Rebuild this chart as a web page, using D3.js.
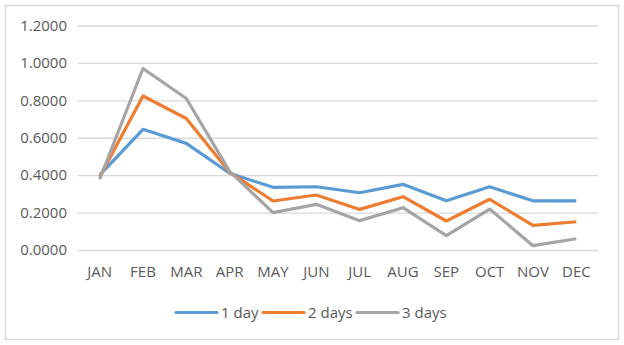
<!DOCTYPE html>
<html><head><meta charset="utf-8">
<script src="https://cdn.jsdelivr.net/npm/d3@7"></script>
<style>body{margin:0;background:#fff}svg{display:block}text{font-family:"Open Sans",sans-serif;fill:#595959}</style>
</head><body>
<script>
const months = ["JAN","FEB","MAR","APR","MAY","JUN","JUL","AUG","SEP","OCT","NOV","DEC"];
const oneDay = [0.400,0.645,0.570,0.410,0.335,0.338,0.306,0.351,0.263,0.338,0.263,0.263];
const twoDays = [0.390,0.823,0.703,0.415,0.262,0.294,0.217,0.285,0.155,0.271,0.132,0.151];
const threeDays = [0.378,0.970,0.810,0.420,0.200,0.244,0.157,0.226,0.077,0.219,0.023,0.060];
const yTicks = [0,0.2,0.4,0.6,0.8,1.0,1.2];
const seriesNames = ["1 day","2 days","3 days"];
const colors = ["#5B9BD5","#ED7D31","#A5A5A5"];

const W=624,H=345;
const svg=d3.select("body").append("svg").attr("width",W).attr("height",H);
svg.append("rect").attr("x",5.5).attr("y",5.5).attr("width",613).attr("height",334).attr("fill","#fff").attr("stroke","#d9d9d9").attr("stroke-width",1.5);

const x=d3.scaleBand().domain(months).range([78,598]);
const y=d3.scaleLinear().domain([0,1.2]).range([250,25.5]);

const yAxis=svg.append("g").attr("transform","translate(78,0)")
  .call(d3.axisLeft(y).tickValues(yTicks).tickFormat(d3.format(".4f")).tickSize(-520).tickPadding(11));
yAxis.select(".domain").remove();
yAxis.selectAll("line").attr("stroke","#d9d9d9").attr("stroke-width",1.3);
yAxis.selectAll("text").attr("font-size",15).attr("fill","#595959");

const xAxis=svg.append("g").attr("transform","translate(0,250)")
  .call(d3.axisBottom(x).tickSize(0).tickPadding(16));
xAxis.select(".domain").remove();
xAxis.selectAll("text").attr("font-size",15).attr("fill","#595959");

const data=[oneDay,twoDays,threeDays];
const line=d3.line().x((d,i)=>x(months[i])+x.bandwidth()/2).y(d=>y(d));
data.forEach((s,k)=>{
  svg.append("path").datum(s).attr("d",line).attr("fill","none")
    .attr("stroke",colors[k]).attr("stroke-width",3.2).attr("stroke-linejoin","round");
});

const legX=[176,263,357];
const lg=svg.append("g");
seriesNames.forEach((n,k)=>{
  lg.append("line").attr("x1",legX[k]).attr("x2",legX[k]+41).attr("y1",312.5).attr("y2",312.5)
    .attr("stroke",colors[k]).attr("stroke-width",3.2).attr("stroke-linecap","round");
  lg.append("text").attr("x",legX[k]+45).attr("y",312.5).attr("dy","0.35em").attr("font-size",15).text(n);
});
</script>
</body></html>
